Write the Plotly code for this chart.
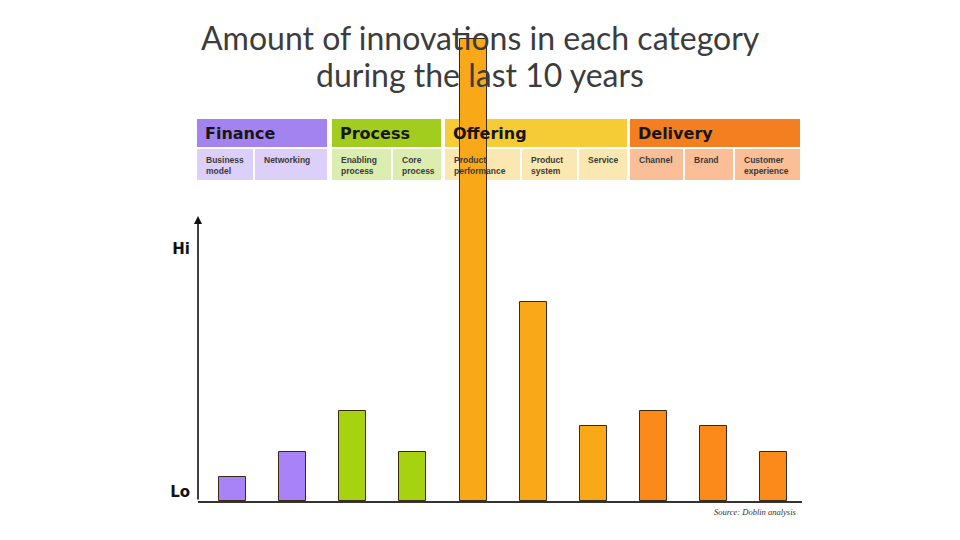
import plotly.graph_objects as go

# ---------------- data ----------------
categories = ["Business model", "Networking", "Enabling process", "Core process",
              "Product performance", "Product system", "Service",
              "Channel", "Brand", "Customer experience"]
category_labels = ["Business<br>model", "Networking", "Enabling<br>process", "Core<br>process",
                   "Product<br>performance", "Product<br>system", "Service",
                   "Channel", "Brand", "Customer<br>experience"]
groups = ["Finance", "Process", "Offering", "Delivery"]
category_group = ["Finance", "Finance", "Process", "Process",
                  "Offering", "Offering", "Offering",
                  "Delivery", "Delivery", "Delivery"]
values = [1.0, 2.0, 3.7, 2.0, 19.0, 8.2, 3.1, 3.7, 3.1, 2.0]
tick_values = [0, 10]
tick_labels = ["Lo", "Hi"]
title_lines = ["Amount of innovations in each category", "during the last 10 years"]
source_text = "Source: Doblin analysis"

# ---------------- styles / layout ----------------
bar_colors = {"Finance": "#a882f7", "Process": "#a6d20f",
              "Offering": "#f9a817", "Delivery": "#fc8a1b"}
head_colors = {"Finance": "#a283ef", "Process": "#a2cc1e",
               "Offering": "#f6cc36", "Delivery": "#f47f20"}
sub_colors = {"Finance": "#dcd0fa", "Process": "#dcedb0",
              "Offering": "#fae8b0", "Delivery": "#fbbf98"}

OFF = 8                     # page body margin
W, H = 960 - 2 * OFF, 540 - 2 * OFF
# plot area in page pixels
PL, PR, PT, PB = 198, 802, OFF, 501
L, R_EDGE, T, B_EDGE = PL - OFF, PR - OFF, PT - OFF, PB - OFF
Y_TOP = (PB - PT) / 24.3    # value units shown in plot height


def px(x):
    return (x - PL) / (PR - PL)


def py(y):
    return (PB - y) / (PB - PT)


# header table geometry (page pixels)
group_spans = {"Finance": (197, 327), "Process": (332, 441),
               "Offering": (445, 627), "Delivery": (630, 800)}
sub_spans = [(197, 253), (255, 327), (332, 391), (393, 441), (445, 520),
             (522, 577), (579, 627), (630, 683), (685, 733), (735, 800)]
HEAD_Y = (119, 147)
SUB_Y = (149, 180)

fig = go.Figure()
fig.add_trace(go.Bar(
    x=categories, y=values, width=0.45,
    marker=dict(color=[bar_colors[g] for g in category_group],
                line=dict(color="#3b2a12", width=1)),
    hoverinfo="x+y",
))

shapes = []
annotations = []
for g in groups:
    x0, x1 = group_spans[g]
    shapes.append(dict(type="rect", xref="paper", yref="paper", layer="below",
                       x0=px(x0), x1=px(x1), y0=py(HEAD_Y[1]), y1=py(HEAD_Y[0]),
                       fillcolor=head_colors[g], line=dict(width=0)))
    annotations.append(dict(xref="paper", yref="paper", x=px(x0 + 6), y=py(134),
                            xanchor="left", yanchor="middle", showarrow=False,
                            text="<b>%s</b>" % g,
                            font=dict(family="DejaVu Sans", size=16, color="#161616")))
for (x0, x1), g, lab in zip(sub_spans, category_group, category_labels):
    shapes.append(dict(type="rect", xref="paper", yref="paper", layer="below",
                       x0=px(x0), x1=px(x1), y0=py(SUB_Y[1]), y1=py(SUB_Y[0]),
                       fillcolor=sub_colors[g], line=dict(width=0)))
    annotations.append(dict(xref="paper", yref="paper", x=px(x0 + 7), y=py(153),
                            xanchor="left", yanchor="top", align="left", showarrow=False,
                            text="<b>%s</b>" % lab,
                            font=dict(family="Liberation Sans", size=8.5, color="#3a3a3a")))

# y axis arrow
annotations.append(dict(xref="paper", yref="paper", x=0, y=py(216), ax=0, ay=PB - 216,
                        text="", showarrow=True, arrowhead=2, arrowsize=1, arrowwidth=1.6,
                        arrowcolor="#111111"))
# title (two lines, placed individually for line spacing)
for line, yc in zip(title_lines, [38, 75]):
    annotations.append(dict(xref="paper", yref="paper", x=px(480), y=py(yc), showarrow=False,
                            xanchor="center", yanchor="middle", text=line,
                            font=dict(family="Lato", size=32, color="#3c3c3c")))
# source
annotations.append(dict(xref="paper", yref="paper", x=px(799), y=py(512), showarrow=False,
                        xanchor="right", yanchor="middle", text="<i>%s</i>" % source_text,
                        font=dict(family="Liberation Serif", size=8.5, color="#333333")))

fig.update_layout(
    width=W, height=H,
    margin=dict(l=L, r=W - R_EDGE, t=T, b=H - B_EDGE, pad=0),
    paper_bgcolor="white", plot_bgcolor="white",
    showlegend=False,
    shapes=shapes, annotations=annotations,
    bargap=0,
    xaxis=dict(type="category", range=[-0.574, 9.47], showticklabels=False,
               showgrid=False, zeroline=False, ticks="",
               showline=True, linecolor="#333333", linewidth=1.5),
    yaxis=dict(range=[0, Y_TOP], showgrid=False, zeroline=False, showline=False,
               tickvals=tick_values, ticktext=["<b>%s</b>" % t for t in tick_labels],
               ticks="", ticklabelstandoff=7, ticklabelshift=-9,
               tickfont=dict(family="DejaVu Sans", size=15, color="#111111")),
)

fig.write_html("out.html")
